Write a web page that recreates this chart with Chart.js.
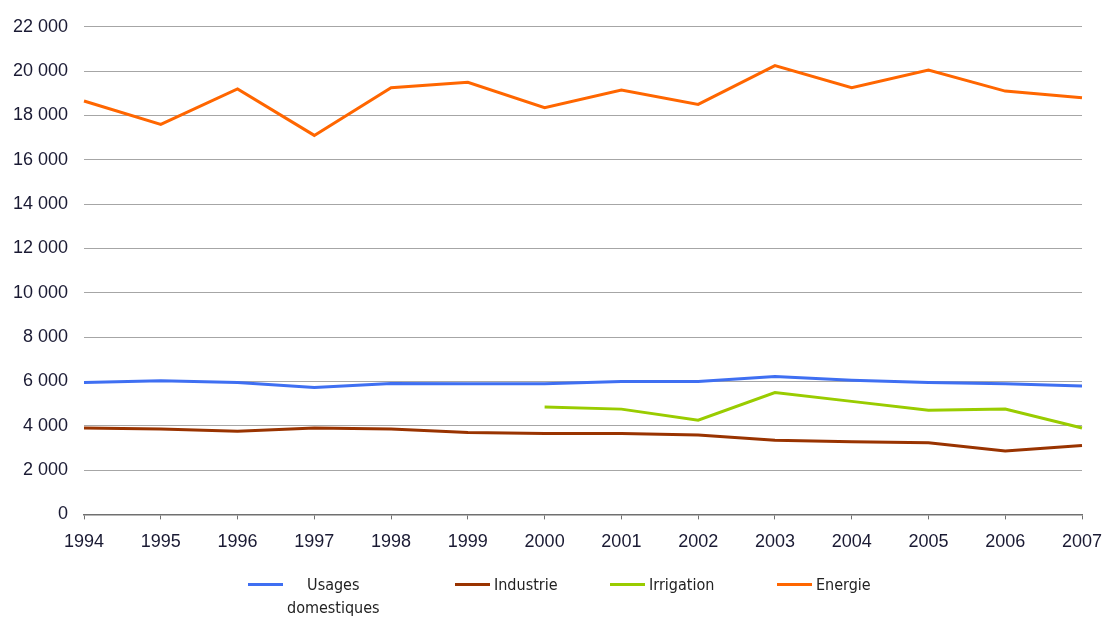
<!DOCTYPE html>
<html>
<head>
<meta charset="utf-8">
<script src="https://cdn.jsdelivr.net/npm/chart.js@4/dist/chart.umd.min.js"></script>
<style>
  html, body { margin: 0; padding: 0; background: #fff; }
  #wrap { position: relative; width: 1103px; height: 617px; }
  #legend { position: absolute; left: 0; top: 573px; width: 1103px; height: 44px;
            font-family: "DejaVu Sans Condensed", "Liberation Sans Narrow", sans-serif; font-size: 16px; color: #222; }
  .item { position: absolute; top: 0; display: flex; align-items: flex-start; }
  .swatch { width: 35px; height: 3px; margin-top: 10px; margin-right: 4px; }
  .lbl { line-height: 23px; text-align: center; }
</style>
</head>
<body>
<div id="wrap">
  <canvas id="chart" width="1103" height="617"></canvas>
  <div id="legend"></div>
</div>
<script>
// années
const years = ['1994', '1995', '1996', '1997', '1998', '1999', '2000',
               '2001', '2002', '2003', '2004', '2005', '2006', '2007'];

// séries (lecture approximative du graphique)
const usagesDomestiques = [5950, 6030, 5950, 5730, 5910, 5900, 5900, 6000, 6000, 6220, 6050, 5950, 5900, 5790];
const industrie = [3900, 3850, 3750, 3900, 3850, 3700, 3650, 3650, 3580, 3350, 3280, 3230, 2860, 3110];
const irrigation = [null, null, null, null, null, null, 4850, 4750, 4250, 5500, 5100, 4700, 4750, 3900];
const energie = [18650, 17600, 19200, 17100, 19250, 19500, 18350, 19150, 18500, 20250, 19250, 20050, 19100, 18800];

const seriesNames = ['Usages<br>domestiques', 'Industrie', 'Irrigation', 'Energie'];
const seriesColors = ['#3f6ff2', '#993300', '#99cc00', '#ff6600'];

// format "22 000"
function fmt(v) {
    return String(v).replace(/\B(?=(\d{3})+(?!\d))/g, ' ');
}

function makeDataset(label, data, color) {
    return {
        label: label,
        data: data,
        borderColor: color,
        backgroundColor: color,
        borderWidth: 3,
        pointRadius: 0,
        tension: 0,
        spanGaps: false
    };
}

const axisFont = { family: '"Liberation Sans", Arial, sans-serif', size: 18 };

const ctx = document.getElementById('chart').getContext('2d');

new Chart(ctx, {
    type: 'line',
    data: {
        labels: years,
        datasets: [
            makeDataset('Usages domestiques', usagesDomestiques, seriesColors[0]),
            makeDataset('Industrie', industrie, seriesColors[1]),
            makeDataset('Irrigation', irrigation, seriesColors[2]),
            makeDataset('Energie', energie, seriesColors[3])
        ]
    },
    options: {
        responsive: false,
        animation: false,
        layout: {
            padding: { left: 0, right: 0, top: 26, bottom: 52 }
        },
        scales: {
            y: {
                min: 0,
                max: 22000,
                afterFit: scale => { scale.width = 84; },
                ticks: {
                    stepSize: 2000,
                    padding: 16,
                    color: '#1a1a33',
                    font: axisFont,
                    callback: v => fmt(v)
                },
                grid: { color: '#a6a6a6', lineWidth: 1, drawTicks: false },
                border: { display: false }
            },
            x: {
                offset: false,
                afterFit: scale => { scale.paddingRight = 21; },
                ticks: {
                    padding: 12,
                    color: '#1a1a33',
                    maxRotation: 0,
                    autoSkip: false,
                    font: axisFont
                },
                grid: { drawOnChartArea: false, drawTicks: true, tickLength: 5, color: '#707070' },
                border: { display: true, color: '#707070', width: 1.5 }
            }
        },
        plugins: {
            legend: { display: false },
            tooltip: { enabled: false }
        }
    }
});

// légende HTML (le libellé "Usages domestiques" passe sur deux lignes)
const legendLeft = [248, 455, 610, 777];
const legendBox = document.getElementById('legend');
seriesNames.forEach((name, i) => {
    const item = document.createElement('div');
    item.className = 'item';
    item.style.left = legendLeft[i] + 'px';
    item.innerHTML = '<div class="swatch" style="background:' + seriesColors[i] + '"></div>' +
                     '<div class="lbl">' + name + '</div>';
    legendBox.appendChild(item);
});
</script>
</body>
</html>
